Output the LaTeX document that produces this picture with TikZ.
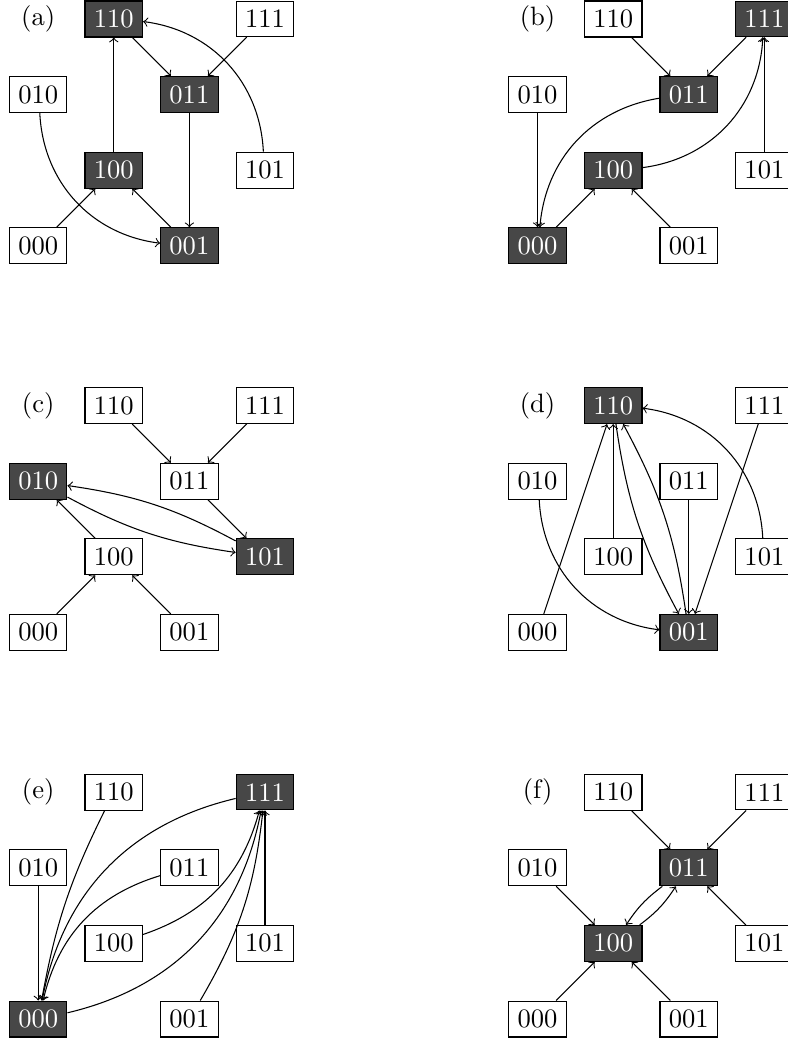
\documentclass[tikz,border=0pt]{standalone}
\begin{document}
\begin{tikzpicture}[
  box/.style={draw, inner sep=3.333pt},
  dk/.style={box, fill=black!72, text=white},
  wt/.style={box, fill=white},
  lbl/.style={inner sep=2pt},
  arr/.style={->},
]
\useasboundingbox (-0.505,-10.479) rectangle (9.905,3.251);

% ---------- (a)
\begin{scope}
\node[lbl] (aL) at (0,3) {(a)};
\node[dk] (a110) at (1,3) {110};
\node[wt] (a111) at (3,3) {111};
\node[wt] (a010) at (0,2) {010};
\node[dk] (a011) at (2,2) {011};
\node[dk] (a100) at (1,1) {100};
\node[wt] (a101) at (3,1) {101};
\node[wt] (a000) at (0,0) {000};
\node[dk] (a001) at (2,0) {001};
\draw[arr] (a110) -- (a011);
\draw[arr] (a111) -- (a011);
\draw[arr] (a100) -- (a110);
\draw[arr] (a011) -- (a001);
\draw[arr] (a000) -- (a100);
\draw[arr] (a001) -- (a100);
\draw[arr] (a010) to[bend right=40] (a001);
\draw[arr] (a101) to[bend right=40] (a110);
\end{scope}

% ---------- (b)
\begin{scope}[shift={(6.606,0)}]
\node[lbl] (bL) at (0,3) {(b)};
\node[wt] (b110) at (1,3) {110};
\node[dk] (b111) at (3,3) {111};
\node[wt] (b010) at (0,2) {010};
\node[dk] (b011) at (2,2) {011};
\node[dk] (b100) at (1,1) {100};
\node[wt] (b101) at (3,1) {101};
\node[dk] (b000) at (0,0) {000};
\node[wt] (b001) at (2,0) {001};
\draw[arr] (b110) -- (b011);
\draw[arr] (b111) -- (b011);
\draw[arr] (b101) -- (b111);
\draw[arr] (b010) -- (b000);
\draw[arr] (b000) -- (b100);
\draw[arr] (b001) -- (b100);
\draw[arr] (b011) to[bend right=38] (b000);
\draw[arr] (b100) to[bend right=40] (b111);
\end{scope}

% ---------- (c)
\begin{scope}[shift={(0,-5.114)}]
\node[lbl] (cL) at (0,3) {(c)};
\node[wt] (c110) at (1,3) {110};
\node[wt] (c111) at (3,3) {111};
\node[dk] (c010) at (0,2) {010};
\node[wt] (c011) at (2,2) {011};
\node[wt] (c100) at (1,1) {100};
\node[dk] (c101) at (3,1) {101};
\node[wt] (c000) at (0,0) {000};
\node[wt] (c001) at (2,0) {001};
\draw[arr] (c110) -- (c011);
\draw[arr] (c111) -- (c011);
\draw[arr] (c011) -- (c101);
\draw[arr] (c100) -- (c010);
\draw[arr] (c000) -- (c100);
\draw[arr] (c001) -- (c100);
\draw[arr] (c010) to[bend right=10] (c101);
\draw[arr] (c101) to[bend right=10] (c010);
\end{scope}

% ---------- (d)
\begin{scope}[shift={(6.606,-5.114)}]
\node[lbl] (dL) at (0,3) {(d)};
\node[dk] (d110) at (1,3) {110};
\node[wt] (d111) at (3,3) {111};
\node[wt] (d010) at (0,2) {010};
\node[wt] (d011) at (2,2) {011};
\node[wt] (d100) at (1,1) {100};
\node[wt] (d101) at (3,1) {101};
\node[wt] (d000) at (0,0) {000};
\node[dk] (d001) at (2,0) {001};
\draw[arr] (d010) to[bend right=40] (d001);
\draw[arr] (d101) to[bend right=40] (d110);
\draw[arr] (d000) -- (d110);
\draw[arr] (d100) -- (d110);
\draw[arr] (d110) to[bend right=10] (d001);
\draw[arr] (d001) to[bend right=10] (d110);
\draw[arr] (d011) -- (d001);
\draw[arr] (d111) -- (d001);
\end{scope}

% ---------- (e)
\begin{scope}[shift={(0,-10.228)}]
\node[lbl] (eL) at (0,3) {(e)};
\node[wt] (e110) at (1,3) {110};
\node[dk] (e111) at (3,3) {111};
\node[wt] (e010) at (0,2) {010};
\node[wt] (e011) at (2,2) {011};
\node[wt] (e100) at (1,1) {100};
\node[wt] (e101) at (3,1) {101};
\node[dk] (e000) at (0,0) {000};
\node[wt] (e001) at (2,0) {001};
\draw[arr] (e010) -- (e000);
\draw[arr] (e110) to[bend right=8] (e000);
\draw[arr] (e011) to[bend right=30] (e000);
\draw[arr] (e111) to[bend right=33] (e000);
\draw[arr] (e100) to[bend right=28] (e111);
\draw[arr] (e000) to[bend right=33] (e111);
\draw[arr] (e001) to[bend right=12] (e111);
\draw[arr] (e101) -- (e111);
\end{scope}

% ---------- (f)
\begin{scope}[shift={(6.606,-10.228)}]
\node[lbl] (fL) at (0,3) {(f)};
\node[wt] (f110) at (1,3) {110};
\node[wt] (f111) at (3,3) {111};
\node[wt] (f010) at (0,2) {010};
\node[dk] (f011) at (2,2) {011};
\node[dk] (f100) at (1,1) {100};
\node[wt] (f101) at (3,1) {101};
\node[wt] (f000) at (0,0) {000};
\node[wt] (f001) at (2,0) {001};
\draw[arr] (f110) -- (f011);
\draw[arr] (f111) -- (f011);
\draw[arr] (f101) -- (f011);
\draw[arr] (f010) -- (f100);
\draw[arr] (f000) -- (f100);
\draw[arr] (f001) -- (f100);
\draw[arr] (f011) to[bend right=10] (f100);
\draw[arr] (f100) to[bend right=10] (f011);
\end{scope}
\end{tikzpicture}
\end{document}
